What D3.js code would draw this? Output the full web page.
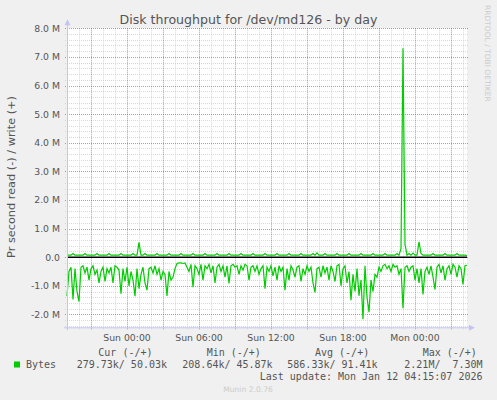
<!DOCTYPE html>
<html><head><meta charset="utf-8">
<script src="https://cdn.jsdelivr.net/npm/d3@7"></script>
<style>
html,body{margin:0;padding:0;background:#f0f0f0;}
svg{display:block;font-family:"DejaVu Sans",sans-serif;}
.mono{font-family:"DejaVu Sans Mono",monospace;white-space:pre;}
</style></head><body>
<svg id="c" width="497" height="400"></svg>
<script>
// ---------------- data ----------------
const title = "Disk throughput for /dev/md126 - by day";
const yLabel = "Pr second read (-) / write (+)";
const startTime = Date.UTC(2026, 0, 10, 19, 0, 0);   // Sat 19:00
const endTime = Date.UTC(2026, 0, 12, 4, 20, 0);     // Mon 04:20
const stepMinutes = 10;
// read (-) in millions of bytes per second, drawn below zero
const readM = [
  1.36,0.5,0.35,1.48,0.4,1.2,1.55,0.35,0.3,0.55,
  0.35,0.8,0.4,0.3,0.6,0.45,0.9,0.5,0.35,0.85,
  0.4,0.55,0.35,0.9,0.3,0.35,0.45,1.28,0.4,0.85,
  0.35,1.0,0.5,0.8,1.36,0.4,1.1,0.6,0.35,0.9,
  1.15,0.4,0.35,0.55,0.3,0.6,0.4,0.8,0.5,0.6,
  1.35,0.5,0.8,0.7,0.4,0.22,0.2,0.2,0.22,0.2,
  0.35,0.5,0.25,1.05,0.3,0.4,0.6,0.25,0.8,0.3,
  0.4,0.25,0.55,0.3,0.9,0.35,0.25,0.5,0.3,0.7,
  0.3,0.92,0.3,0.25,0.35,0.3,0.6,0.3,0.45,0.25,
  0.3,0.8,0.35,0.3,0.5,0.3,0.6,0.4,0.3,1.1,
  0.35,0.5,0.3,0.65,0.35,0.8,0.3,0.5,0.35,1.15,
  0.4,0.8,0.3,0.45,0.7,0.35,0.3,0.85,0.4,0.6,
  0.3,0.5,0.35,0.9,1.23,0.4,0.35,0.7,0.3,0.55,
  0.35,0.8,0.3,0.5,0.85,0.3,0.25,1.0,0.4,0.3,
  0.9,0.5,1.5,0.6,1.2,0.4,1.35,0.8,2.17,0.3,
  1.4,1.92,0.8,1.2,0.6,0.7,0.35,0.5,0.3,0.25,
  0.4,0.3,0.5,0.25,0.35,0.3,0.6,0.4,1.78,0.35,
  0.3,0.5,0.35,0.3,0.8,0.4,0.9,0.4,1.3,0.5,
  0.35,0.6,0.3,0.7,1.13,0.35,0.25,0.55,0.3,0.8,
  0.4,0.3,0.6,0.25,0.35,0.7,0.3,0.4,0.95,0.3,
  0.28
];
// write (+)
const writeM = [
  .07,.07,.07,.13,.07,.07,.07,.07,.07,.13,.07,.07,
  .07,.07,.07,.13,.07,.07,.07,.07,.07,.13,.07,.07,
  .07,.07,.07,.13,.07,.07,.07,.07,.07,.13,.07,.07,
  .52,.07,.07,.13,.07,.07,.07,.07,.07,.13,.07,.07,
  .07,.07,.07,.13,.07,.07,.07,.07,.07,.13,.07,.07,
  .07,.07,.07,.13,.07,.07,.07,.07,.07,.13,.07,.07,
  .07,.07,.07,.13,.07,.07,.07,.07,.07,.13,.07,.07,
  .07,.07,.07,.13,.07,.07,.07,.07,.07,.13,.07,.07,
  .07,.07,.07,.13,.07,.07,.07,.07,.07,.13,.07,.07,
  .07,.07,.07,.13,.07,.07,.07,.07,.07,.13,.07,.07,
  .07,.07,.07,.13,.07,.15,.07,.07,.07,.13,.07,.07,
  .07,.07,.07,.13,.07,.07,.07,.07,.07,.13,.07,.07,
  .07,.07,.07,.13,.07,.07,.07,.07,.07,.13,.07,.07,
  .07,.07,.07,.13,.07,.07,.07,.07,.07,.13,.07,.30,
  7.30,.45,.07,.13,.07,.14,.07,.07,.54,.13,.07,.07,
  .07,.07,.07,.13,.07,.07,.07,.07,.07,.13,.07,.07,
  .07,.07,.07,.13,.07,.07,.07,.07,.05
];
const yTickValues = [-2,-1,0,1,2,3,4,5,6,7,8];
const legendHeaders = ["Cur (-/+)", "Min (-/+)", "Avg (-/+)", "Max (-/+)"];
const legendValues = ["279.73k/ 50.03k", "208.64k/ 45.87k", "586.33k/ 91.41k", "2.21M/  7.30M"];
const seriesName = "Bytes";
const lastUpdate = "Last update: Mon Jan 12 04:15:07 2026";
const footer = "Munin 2.0.76";
const watermark = "RRDTOOL / TOBI OETIKER";

// ---------------- drawing ----------------
const svg = d3.select("#c");
const L = 67, R = 467, T = 28.3, B = 327.3;
const x = d3.scaleUtc().domain([startTime, endTime]).range([L, R]);
const y = d3.scaleLinear().domain([-2.45, 8]).range([B, T]);
const tAt = i => new Date(startTime + i * stepMinutes * 60000);

const gray = "#d8d8d8", red = "#ff0000", axisCol = "#c4c4f4", green = "#00cc00";

svg.append("rect").attr("x", L).attr("y", T).attr("width", R - L).attr("height", B - T).attr("fill", "#fff");

// grid: minor (grey) and major (red) drawn as one path each
const minorY = d3.range(-24, 81, 2).map(v => v / 10).filter(v => Math.abs(v - Math.round(v)) > 1e-6);
const hourTicks = x.ticks(d3.utcHour.every(1)).filter(d => d.getUTCHours() % 3 !== 0);
const threeH = x.ticks(d3.utcHour.every(3));
const px = v => Math.round(v) + 0.5;
const minorPath = minorY.map(v => `M${L - 2},${px(y(v))}H${R + 2}`).join("")
  + hourTicks.map(d => `M${px(x(d))},${T}V${B + 2}`).join("");
const majorPath = yTickValues.map(v => `M${L - 2},${px(y(v))}H${R + 2}`).join("")
  + threeH.map(d => `M${px(x(d))},${T}V${B + 3}`).join("");
svg.append("path").attr("d", minorPath).attr("fill", "none")
  .attr("stroke", gray).attr("stroke-width", 1).attr("stroke-dasharray", "1,1");
svg.append("path").attr("d", majorPath).attr("fill", "none")
  .attr("stroke", red).attr("stroke-opacity", 0.5).attr("stroke-width", 1).attr("stroke-dasharray", "1,1");

// data lines
const lineW = d3.line().x((d, i) => x(tAt(i))).y(d => y(d));
const lineR = d3.line().x((d, i) => x(tAt(i))).y(d => y(-d));
svg.append("path").datum(readM).attr("d", lineR).attr("fill", "none").attr("stroke", green).attr("stroke-width", 1.2);
svg.append("path").datum(writeM).attr("d", lineW).attr("fill", "none").attr("stroke", green).attr("stroke-width", 1.2);

// zero rule
svg.append("line").attr("x1", L).attr("x2", R).attr("y1", y(0)).attr("y2", y(0))
  .attr("stroke", "#000").attr("stroke-width", 1.6);

// axes lines with arrows
svg.append("line").attr("x1", L + 0.5).attr("x2", L + 0.5).attr("y1", B + 3).attr("y2", T - 4)
  .attr("stroke", axisCol).attr("stroke-width", 1);
svg.append("path").attr("d", `M${L - 2.5},${T - 3} L${L + 3.5},${T - 3} L${L + 0.5},${T - 9} Z`).attr("fill", axisCol);
svg.append("line").attr("x1", L - 3).attr("x2", R + 4).attr("y1", B + 0.5).attr("y2", B + 0.5)
  .attr("stroke", axisCol).attr("stroke-width", 1);
svg.append("path").attr("d", `M${R + 2},${B - 2.5} L${R + 2},${B + 3.5} L${R + 8},${B + 0.5} Z`).attr("fill", axisCol);

// y tick labels
const fmtY = v => v === 0 ? "0.0" : d3.format(".1f")(v).replace("\u2212", "-") + " M";
svg.append("g").selectAll("text").data(yTickValues).join("text")
  .attr("x", 60).attr("y", d => y(d) + 3.4).attr("text-anchor", "end")
  .attr("font-size", "9.3px").attr("fill", "#555").text(d => fmtY(d));

// x tick labels
const sixH = x.ticks(d3.utcHour.every(6)).filter(d => x(d) > L + 20);
const fmtX = d3.utcFormat("%a %H:%M");
svg.append("g").selectAll("text").data(sixH).join("text")
  .attr("x", d => x(d)).attr("y", 340.5).attr("text-anchor", "middle")
  .attr("font-size", "9.3px").attr("fill", "#555").text(d => fmtX(d));

// title
svg.append("text").attr("x", 248.5).attr("y", 24).attr("text-anchor", "middle")
  .attr("font-size", "12.6px").attr("fill", "#555").text(title);

// y label
svg.append("text").attr("transform", "translate(15,177) rotate(-90)").attr("text-anchor", "middle")
  .attr("font-size", "11.3px").attr("fill", "#555").text(yLabel);

// watermark
svg.append("text").attr("transform", "translate(485,5) rotate(90)").attr("text-anchor", "start")
  .attr("font-size", "7.5px").attr("fill", "#cccccc").text(watermark);

// legend
const hx = [98.3, 206.7, 315, 422.7];
svg.append("g").selectAll("text").data(legendHeaders).join("text")
  .attr("class", "mono").attr("x", (d, i) => hx[i]).attr("y", 356).attr("font-size", "10px").attr("fill", "#555").text(d => d);
const vx = [76.7, 182.3, 287.3, 404.3];
svg.append("g").selectAll("text").data(legendValues).join("text")
  .attr("class", "mono").attr("x", (d, i) => vx[i]).attr("y", 368).attr("font-size", "10px").attr("fill", "#555").text(d => d);
svg.append("rect").attr("x", 14).attr("y", 361.5).attr("width", 6).attr("height", 6).attr("fill", green);
svg.append("text").attr("class", "mono").attr("x", 26).attr("y", 368).attr("font-size", "10px").attr("fill", "#555").text(seriesName);
svg.append("text").attr("class", "mono").attr("x", 482.5).attr("y", 380).attr("text-anchor", "end")
  .attr("font-size", "10px").attr("fill", "#555").text(lastUpdate);
svg.append("text").attr("x", 248).attr("y", 392).attr("text-anchor", "middle")
  .attr("font-size", "7.6px").attr("fill", "#cccccc").text(footer);
</script>
</body></html>
